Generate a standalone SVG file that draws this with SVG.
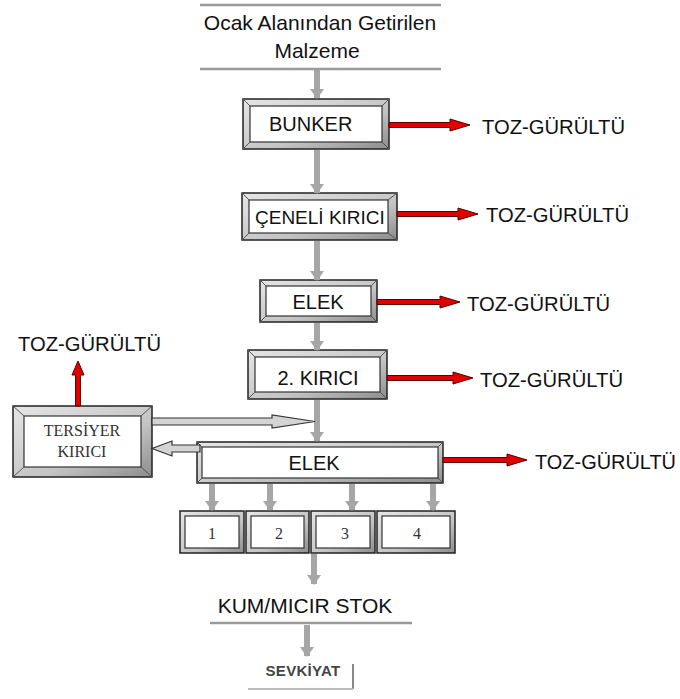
<svg xmlns="http://www.w3.org/2000/svg" width="680" height="699" viewBox="0 0 680 699">
<style>
.t{font-family:"Liberation Sans",Arial,sans-serif;fill:#111;}
.s{font-family:"Liberation Serif","Times New Roman",serif;fill:#333;}
.outer{fill:url(#bevg);stroke:#222;stroke-width:1.5;}
.inner{fill:#fff;stroke:#333;stroke-width:1.2;}
.bev{stroke:#555;stroke-width:1;}
.gray{stroke:#a6a6a6;stroke-width:6;fill:none;}
.red{fill:#e00000;stroke:#5a0000;stroke-width:1;}
.hollow{fill:#d4d4d4;stroke:#333;stroke-width:1.2;}
.rule{stroke:#9a9a9a;stroke-width:2.5;}
.lab{font-family:"Liberation Sans",Arial,sans-serif;fill:#111;font-size:20.5px;}
</style>
<defs>
<linearGradient id="bevg" x1="0" y1="0" x2="1" y2="1">
<stop offset="0" stop-color="#e6e6e6"/>
<stop offset="0.6" stop-color="#c4c4c4"/>
<stop offset="1" stop-color="#8c8c8c"/>
</linearGradient>
<marker id="gh" viewBox="0 0 10 14" refX="9" refY="7" markerWidth="1.7" markerHeight="2.4" orient="auto" markerUnits="strokeWidth">
<path d="M0,0 L10,7 L0,14 Z" fill="#a6a6a6"/>
</marker>
</defs>

<g id="source">
<line class="rule" x1="200" y1="5" x2="441" y2="5"/>
<text class="t" x="320" y="30" font-size="21" text-anchor="middle">Ocak Alanından Getirilen</text>
<text class="t" x="317" y="58" font-size="21" text-anchor="middle">Malzeme</text>
<line class="rule" x1="200" y1="69" x2="441" y2="69"/>
</g>

<g id="bunker">
<rect class="outer" x="243" y="99" width="146" height="50"/>
<rect class="inner" x="250" y="106" width="132" height="36"/>
<path class="bev" d="M243,99 L250,106 M389,99 L382,106 M243,149 L250,142 M389,149 L382,142"/>
<text class="t" x="269" y="131" font-size="20">BUNKER</text>
</g>

<g id="ceneli">
<rect class="outer" x="242" y="193" width="155" height="47"/>
<rect class="inner" x="249" y="200" width="139" height="33"/>
<path class="bev" d="M242,193 L249,200 M397,193 L388,200 M242,240 L249,233 M397,240 L388,233"/>
<text class="t" x="255" y="224" font-size="19">ÇENELİ KIRICI</text>
</g>

<g id="elek1">
<rect class="outer" x="260" y="280" width="117" height="42"/>
<rect class="inner" x="266" y="286" width="105" height="30"/>
<path class="bev" d="M260,280 L266,286 M377,280 L371,286 M260,322 L266,316 M377,322 L371,316"/>
<text class="t" x="318" y="309" font-size="20" text-anchor="middle">ELEK</text>
</g>

<g id="kirici2">
<rect class="outer" x="248" y="350" width="139" height="49"/>
<rect class="inner" x="255" y="357" width="125" height="35"/>
<path class="bev" d="M248,350 L255,357 M387,350 L380,357 M248,399 L255,392 M387,399 L380,392"/>
<text class="t" x="318" y="385" font-size="20" text-anchor="middle">2. KIRICI</text>
</g>

<g id="tersiyer">
<rect class="outer" x="13" y="406" width="139" height="71"/>
<rect class="inner" x="24" y="416" width="117" height="51"/>
<path class="bev" d="M13,406 L24,416 M152,406 L141,416 M13,477 L24,467 M152,477 L141,467"/>
<text class="s" x="82" y="436" font-size="16" text-anchor="middle">TERSİYER</text>
<text class="s" x="82" y="457" font-size="16" text-anchor="middle">KIRICI</text>
</g>

<g id="elek2">
<rect class="outer" x="197" y="442" width="246" height="41"/>
<rect class="inner" x="202" y="447" width="236" height="31"/>
<path class="bev" d="M197,442 L202,447 M443,442 L438,447 M197,483 L202,478 M443,483 L438,478"/>
<text class="t" x="314" y="470" font-size="20" text-anchor="middle">ELEK</text>
</g>

<g id="bin1">
<rect class="outer" x="180" y="511" width="64" height="42"/>
<rect class="inner" x="185" y="516" width="54" height="32"/>
<text class="s" x="212" y="539" font-size="16" text-anchor="middle">1</text>
</g>
<g id="bin2">
<rect class="outer" x="246" y="511" width="63" height="42"/>
<rect class="inner" x="251" y="516" width="53" height="32"/>
<text class="s" x="279" y="539" font-size="16" text-anchor="middle">2</text>
</g>
<g id="bin3">
<rect class="outer" x="311" y="511" width="64" height="42"/>
<rect class="inner" x="316" y="516" width="54" height="32"/>
<text class="s" x="345" y="539" font-size="16" text-anchor="middle">3</text>
</g>
<g id="bin4">
<rect class="outer" x="377" y="511" width="78" height="42"/>
<rect class="inner" x="382" y="516" width="68" height="32"/>
<text class="s" x="417" y="539" font-size="16" text-anchor="middle">4</text>
</g>

<g id="stok">
<text class="t" x="305" y="613" font-size="21" text-anchor="middle">KUM/MICIR STOK</text>
<line class="rule" x1="210" y1="623" x2="412" y2="623"/>
</g>

<g id="sevkiyat">
<text x="303" y="676" font-size="15" font-weight="bold" text-anchor="middle" font-family="Liberation Sans,Arial,sans-serif" fill="#444" letter-spacing="0.3">SEVKİYAT</text>
<line x1="353" y1="664" x2="353" y2="689" stroke="#888" stroke-width="2"/>
<line x1="248" y1="689" x2="353" y2="689" stroke="#bbb" stroke-width="2"/>
</g>

<g id="labels">
<text class="lab" x="482" y="134" textLength="143" lengthAdjust="spacingAndGlyphs">TOZ-GÜRÜLTÜ</text>
<text class="lab" x="486" y="222" textLength="143" lengthAdjust="spacingAndGlyphs">TOZ-GÜRÜLTÜ</text>
<text class="lab" x="467" y="311" textLength="143" lengthAdjust="spacingAndGlyphs">TOZ-GÜRÜLTÜ</text>
<text class="lab" x="480" y="387" textLength="143" lengthAdjust="spacingAndGlyphs">TOZ-GÜRÜLTÜ</text>
<text class="lab" x="535" y="469" textLength="141" lengthAdjust="spacingAndGlyphs">TOZ-GÜRÜLTÜ</text>
<text class="lab" x="18" y="351" textLength="143" lengthAdjust="spacingAndGlyphs">TOZ-GÜRÜLTÜ</text>
</g>

<g id="connectors">
<line class="gray" x1="317" y1="70" x2="317" y2="98" marker-end="url(#gh)"/>
<line class="gray" x1="317" y1="150" x2="317" y2="193" marker-end="url(#gh)"/>
<line class="gray" x1="317" y1="241" x2="317" y2="280" marker-end="url(#gh)"/>
<line class="gray" x1="317" y1="323" x2="317" y2="350" marker-end="url(#gh)"/>
<line class="gray" x1="317" y1="400" x2="317" y2="441" marker-end="url(#gh)"/>
<line class="gray" x1="212" y1="484" x2="212" y2="510" marker-end="url(#gh)"/>
<line class="gray" x1="270" y1="484" x2="270" y2="510" marker-end="url(#gh)"/>
<line class="gray" x1="352" y1="484" x2="352" y2="510" marker-end="url(#gh)"/>
<line class="gray" x1="433" y1="484" x2="433" y2="510" marker-end="url(#gh)"/>
<line class="gray" x1="314" y1="554" x2="314" y2="584" marker-end="url(#gh)"/>
<line class="gray" x1="307" y1="625" x2="307" y2="656" marker-end="url(#gh)"/>

<polygon class="red" points="389,122.5 450,122.5 450,119 470,125 450,131 450,127.5 389,127.5"/>
<polygon class="red" points="397,211.5 458,211.5 458,208 478,214 458,220 458,216.5 397,216.5"/>
<polygon class="red" points="377,299.5 440,299.5 440,296 460,302 440,308 440,304.5 377,304.5"/>
<polygon class="red" points="387,375.5 453,375.5 453,372 473,378 453,384 453,380.5 387,380.5"/>
<polygon class="red" points="443,457.5 507,457.5 507,454 527,460 507,466 507,462.5 443,462.5"/>
<polygon class="red" points="75.5,406 75.5,375 72,375 78,361 84,375 80.5,375 80.5,406"/>

<polygon class="hollow" points="152,418 272,418 272,415 315,421.5 272,428 272,425 152,425"/>
<polygon class="hollow" points="200,445 172,445 172,441 152,448.5 172,456 172,452 200,452"/>
</g>
</svg>
